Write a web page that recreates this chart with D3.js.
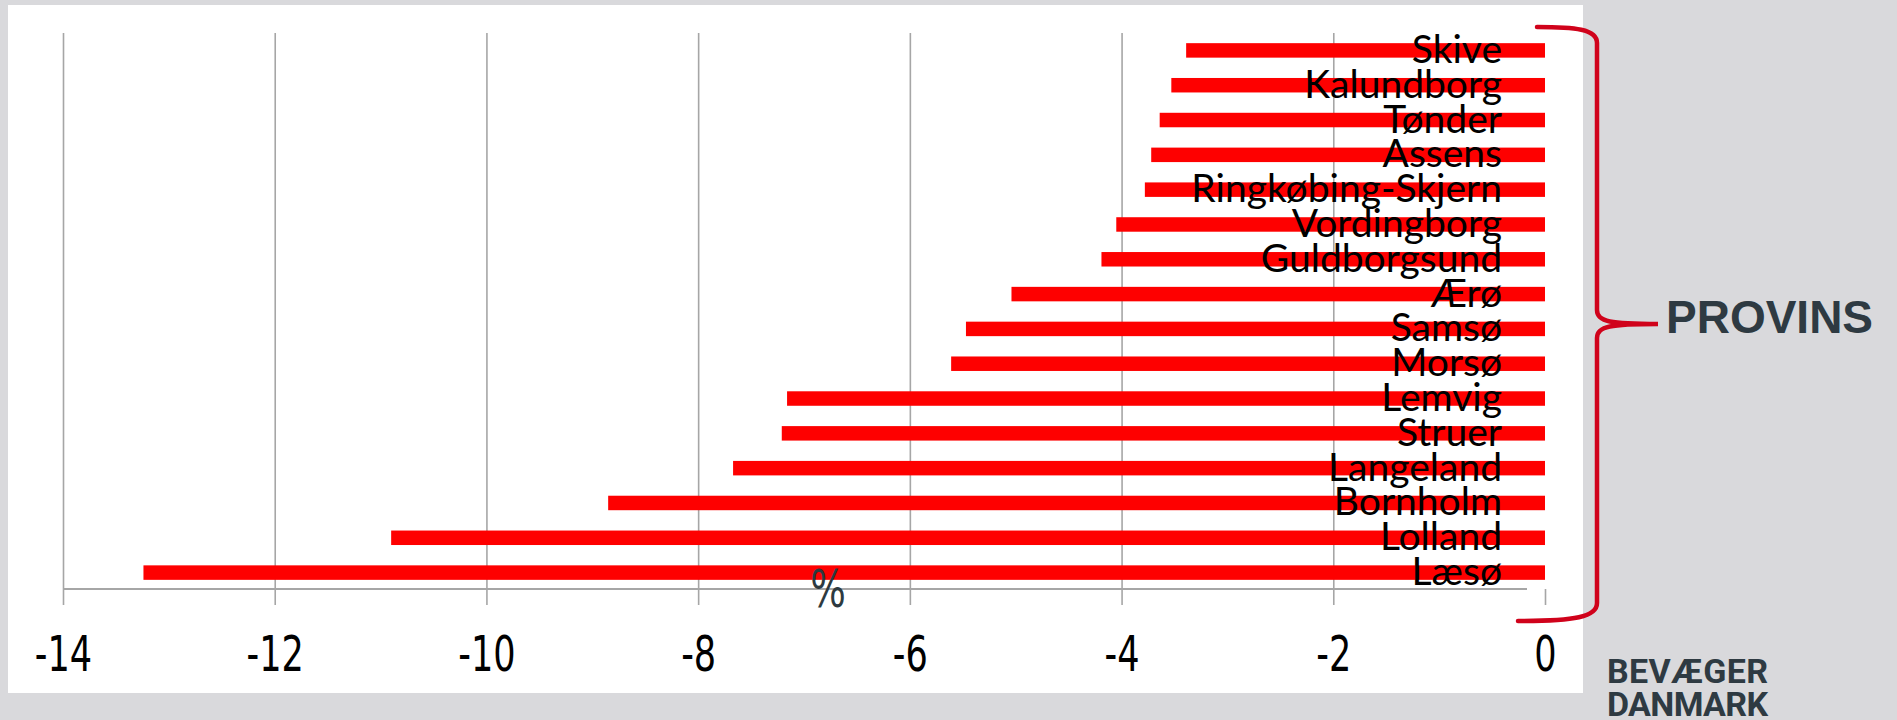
<!DOCTYPE html>
<html>
<head>
<meta charset="utf-8">
<script src="https://cdn.jsdelivr.net/npm/d3@7"></script>
<style>
  html, body { margin: 0; padding: 0; background: #d9d9dc; }
  svg { display: block; }
</style>
</head>
<body>
<svg width="1897" height="720"></svg>
<script>
// data (% change)
var categories = ["Skive", "Kalundborg", "Tønder", "Assens", "Ringkøbing-Skjern", "Vordingborg",
  "Guldborgsund", "Ærø", "Samsø", "Morsø", "Lemvig", "Struer", "Langeland", "Bornholm", "Lolland", "Læsø"];
var values = [-3.39, -3.53, -3.64, -3.72, -3.78, -4.05, -4.19, -5.04, -5.47, -5.61,
  -7.16, -7.21, -7.67, -8.85, -10.90, -13.24];
var xTicks = [-14, -12, -10, -8, -6, -4, -2, 0];
var unitLabel = "%";
var groupLabel = "PROVINS";
var logoLines = ["BEVÆGER", "DANMARK"];

var svg = d3.select("svg");

// white chart panel
svg.append("rect").attr("x", 8).attr("y", 5).attr("width", 1575).attr("height", 688).attr("fill", "#ffffff");

var x = d3.scaleLinear().domain([-14, 0]).range([63, 1545]);
var y = d3.scaleBand().domain(categories).range([33, 590]).paddingInner(0.584).paddingOuter(0.292);

var axisY = 589, tickBottom = 605;
var narrow = "'Liberation Sans Narrow', 'DejaVu Sans Condensed', sans-serif";

// gridlines + ticks below the axis
var grid = svg.append("g").attr("transform", "translate(0," + tickBottom + ")")
  .call(d3.axisBottom(x).tickValues(xTicks).tickSize(-(tickBottom - y.range()[0])).tickFormat(""));
grid.select(".domain").remove();
grid.selectAll(".tick line")
  .attr("stroke", "#a6a6a6").attr("stroke-width", 1.6)
  .attr("y2", function(d) { return d === 0 ? -(tickBottom - axisY) : -(tickBottom - y.range()[0]); });

// horizontal axis line
svg.append("line").attr("x1", x(-14)).attr("x2", x(0) - 18).attr("y1", axisY).attr("y2", axisY)
  .attr("stroke", "#a6a6a6").attr("stroke-width", 1.8);

// tick labels
var labels = svg.append("g").attr("transform", "translate(0," + axisY + ")")
  .call(d3.axisBottom(x).tickValues(xTicks).tickSize(0).tickPadding(0)
    .tickFormat(function(d) { return String(d); }));
labels.select(".domain").remove();
labels.selectAll(".tick text")
  .attr("y", 0).attr("dy", 0)
  .attr("transform", "translate(0,82) scale(0.78,1)")
  .attr("fill", "#000")
  .style("font-family", narrow)
  .style("font-size", "50px");

// bars
svg.append("g").selectAll("rect").data(values).enter().append("rect")
  .attr("x", function(d) { return x(d); })
  .attr("y", function(d, i) { return y(categories[i]); })
  .attr("width", function(d) { return x(0) - x(d); })
  .attr("height", y.bandwidth())
  .attr("fill", "#fe0000");

// category labels over the bars
svg.append("g").selectAll("text").data(categories).enter().append("text")
  .attr("x", 1502)
  .attr("y", function(d) { return y(d) + y.bandwidth() / 2 + 12.5; })
  .attr("text-anchor", "end")
  .attr("fill", "#000")
  .style("font-family", "Lato, sans-serif")
  .style("font-size", "39px")
  .text(function(d) { return d; });

// unit label
svg.append("text").attr("transform", "translate(828,607) scale(0.8,1)").attr("text-anchor", "middle")
  .attr("fill", "#2d3a40")
  .style("font-family", narrow)
  .style("font-size", "52px")
  .text(unitLabel);

// bracket
var bx = 1597, bTop = 27, bBot = 621, bMid = 324, tip = 1658;
var p = d3.path();
p.moveTo(1537, bTop);
p.bezierCurveTo(1575, bTop, bx, bTop + 2, bx, bTop + 16);
p.lineTo(bx, bMid - 14);
p.bezierCurveTo(bx, bMid - 2, bx + 14, bMid, tip, bMid);
p.bezierCurveTo(bx + 14, bMid, bx, bMid + 2, bx, bMid + 14);
p.lineTo(bx, bBot - 18);
p.bezierCurveTo(bx, bBot - 4, 1575, bBot, 1518, bBot);
svg.append("path").attr("d", p.toString()).attr("fill", "none")
  .attr("stroke", "#d0021b").attr("stroke-width", 4.5).attr("stroke-linecap", "round");

svg.append("text").attr("x", 1666).attr("y", 333)
  .attr("fill", "#2e3a42")
  .style("font-family", "'Liberation Sans', Arial, sans-serif")
  .style("font-weight", "bold")
  .style("font-size", "46px")
  .text(groupLabel);

// logo
svg.append("g").selectAll("text").data(logoLines).enter().append("text")
  .attr("x", 1607)
  .attr("y", function(d, i) { return 683 + i * 33; })
  .attr("textLength", 161)
  .attr("lengthAdjust", "spacing")
  .attr("fill", "#2e3a42")
  .style("font-family", "Roboto, sans-serif")
  .style("font-weight", "bold")
  .style("font-size", "34px")
  .text(function(d) { return d; });
</script>
</body>
</html>
